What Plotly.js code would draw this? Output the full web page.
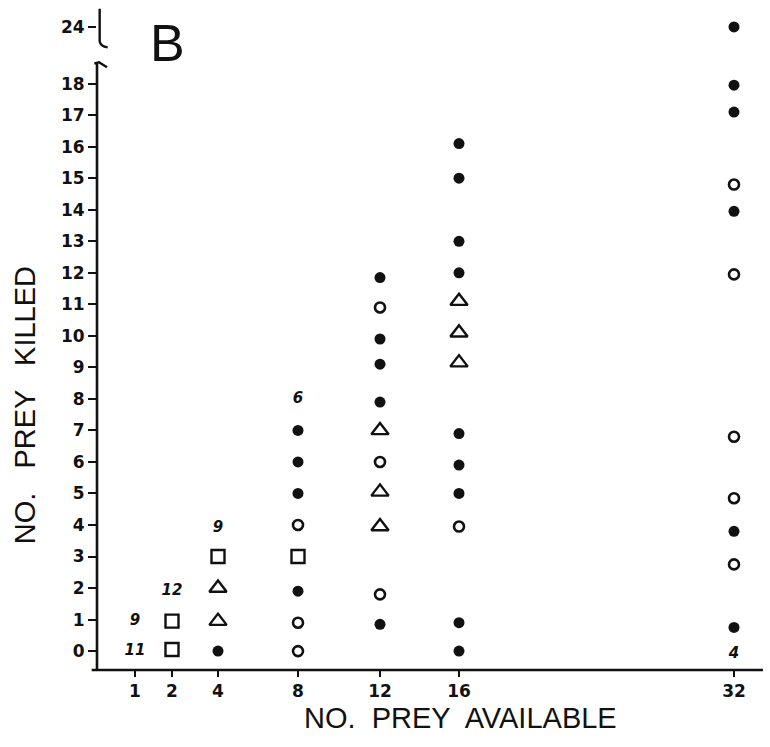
<!DOCTYPE html>
<html>
<head>
<meta charset="utf-8">
<script src="https://cdn.plot.ly/plotly-3.0.1.min.js"></script>
<style>
  html, body { margin: 0; padding: 0; background: #fff; }
  #chart { width: 770px; height: 747px; }
</style>
</head>
<body>
<div id="chart"></div>
<script>
// ---- Data ----
// Categories on the x axis (number of prey available)
const preyAvailable = [1, 2, 4, 8, 12, 16, 32];
const xTickLabels = ['1', '2', '4', '8', '12', '16', '32'];
// The hand-drawn x axis is not linear: where each category sits on it
const xAxisPosition = [-0.15, 1.7, 4, 8, 12.1, 16.05, 29.8];

// y axis: 0..18 then a break to 24
const yTickValues = [0,1,2,3,4,5,6,7,8,9,10,11,12,13,14,15,16,17,18,24];
const yBreakValue = 24;      // value drawn above the axis break
const yBreakPosition = 19.8; // where that value sits on the drawn axis

// Filled circles
const filledX = [4, 8,8,8,8, 12,12,12,12,12, 16,16,16,16,16,16,16,16,16, 32,32,32,32,32,32];
const filledY = [0, 1.9,5,6,7, 0.85,7.9,9.1,9.9,11.85, 0,0.9,5,5.9,6.9,12,13,15,16.1, 0.75,3.8,13.95,17.1,17.95,24];

// Open circles
const openX = [8,8,8, 12,12,12, 16, 32,32,32,32,32];
const openY = [0,0.9,4, 1.8,6,10.9, 3.95, 2.75,4.85,6.8,11.95,14.8];

// Open triangles
const triX = [4,4, 12,12,12, 16,16,16];
const triY = [0.95,2, 3.95,5.05,7, 9.15,10.1,11.1];

// Open squares
const sqX = [2,2, 4, 8];
const sqY = [0.05,0.95, 3, 3];

// Hand-written counts
const countX = [1, 1, 2, 4, 8, 32];
const countY = [0.95, 0, 1.9, 3.9, 8, -0.1];
const countText = ['9', '11', '12', '9', '6', '4'];

// ---- helpers ----
function xPos(v) { return xAxisPosition[preyAvailable.indexOf(v)]; }
function yPos(v) { return v >= yBreakValue ? yBreakPosition + (v - yBreakValue) : v; }

const ink = '#111';

const traces = [
  {
    type: 'scatter', mode: 'markers',
    x: filledX.map(xPos), y: filledY.map(yPos),
    marker: { symbol: 'circle', size: 11, color: ink },
    hoverinfo: 'skip'
  },
  {
    type: 'scatter', mode: 'markers',
    x: openX.map(xPos), y: openY.map(yPos),
    marker: { symbol: 'circle-open', size: 10, color: ink, line: { width: 2.6, color: ink } },
    hoverinfo: 'skip'
  },
  {
    type: 'scatter', mode: 'markers',
    x: triX.map(xPos), y: triY.map(yPos),
    marker: { symbol: 'triangle-up-open', size: 15, color: ink, line: { width: 2.4, color: ink } },
    hoverinfo: 'skip'
  },
  {
    type: 'scatter', mode: 'markers',
    x: sqX.map(xPos), y: sqY.map(yPos),
    marker: { symbol: 'square-open', size: 13, color: ink, line: { width: 2.4, color: ink } },
    hoverinfo: 'skip'
  },
  {
    type: 'scatter', mode: 'text',
    x: countX.map(xPos), y: countY.map(yPos),
    text: countText,
    textposition: 'middle center',
    textfont: { family: 'DejaVu Sans', size: 15, color: ink, style: 'italic', weight: 'bold' },
    hoverinfo: 'skip'
  }
];

const yLower = -0.6, yUpper = 20.4;

const layout = {
  width: 770, height: 747,
  margin: { l: 97, r: 7, t: 8, b: 77 },
  paper_bgcolor: '#fff', plot_bgcolor: '#fff',
  showlegend: false,
  xaxis: {
    range: [-2.05, 31.25],
    tickmode: 'array',
    tickvals: xAxisPosition,
    ticktext: xTickLabels,
    ticks: 'outside', ticklen: 6, tickwidth: 2, tickcolor: ink,
    showline: false, showgrid: false, zeroline: false,
    tickfont: { family: 'DejaVu Sans', size: 17, color: ink, weight: 'bold' },
    fixedrange: true
  },
  yaxis: {
    range: [yLower, yUpper],
    tickmode: 'array',
    tickvals: yTickValues.map(yPos),
    ticktext: yTickValues.map(String),
    ticks: 'outside', ticklen: 8, tickwidth: 2, tickcolor: ink,
    showline: false, showgrid: false, zeroline: false,
    tickfont: { family: 'DejaVu Sans', size: 17, color: ink, weight: 'bold' },
    fixedrange: true
  },
  shapes: [
    // x axis line (extends a little left of the y axis)
    { type: 'line', xref: 'paper', yref: 'paper', x0: -0.008, x1: 1.0, y0: 0, y1: 0,
      line: { color: ink, width: 2.6 } },
    // lower y axis segment
    { type: 'line', xref: 'paper', yref: 'y', x0: 0, x1: 0, y0: yLower, y1: 18.62,
      line: { color: ink, width: 2.6 } },
    // hook at top of lower segment
    { type: 'path', xref: 'paper', yref: 'y',
      path: 'M -0.004 18.64 L 0.003 18.68 L 0.015 18.52',
      line: { color: ink, width: 2.4 } },
    // upper y axis segment (above break), bracket-like
    { type: 'path', xref: 'paper', yref: 'y',
      path: 'M 0.004 20.38 L 0.004 19.35 Q 0.005 19.18 0.016 19.15',
      line: { color: ink, width: 2.4 } }
  ],
  annotations: [
    { text: 'NO.  PREY  AVAILABLE', xref: 'paper', yref: 'paper', x: 0.546, y: -0.046,
      xanchor: 'center', yanchor: 'top', showarrow: false,
      font: { family: 'Liberation Sans', size: 29, color: ink } },
    { text: 'NO.   PREY   KILLED', xref: 'paper', yref: 'paper', x: -0.108, y: 0.4,
      xanchor: 'center', yanchor: 'middle', textangle: -90, showarrow: false,
      font: { family: 'Liberation Sans', size: 29, color: ink } },
    { text: 'B', xref: 'paper', yref: 'paper', x: 0.106, y: 0.947,
      xanchor: 'center', yanchor: 'middle', showarrow: false,
      font: { family: 'Liberation Sans', size: 52, color: ink, weight: 300 } }
  ]
};

Plotly.newPlot('chart', traces, layout, { displayModeBar: false, staticPlot: true });
</script>
</body>
</html>
